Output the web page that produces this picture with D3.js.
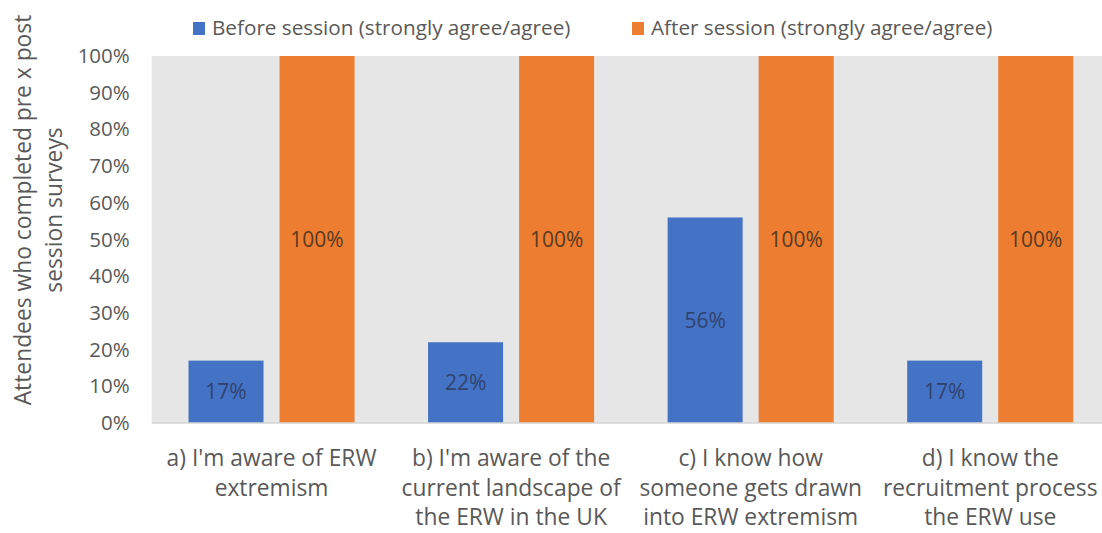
<!DOCTYPE html>
<html>
<head>
<meta charset="utf-8">
<script src="https://cdn.jsdelivr.net/npm/d3@7"></script>
<style>
  html, body { margin: 0; padding: 0; background: #ffffff; }
  svg { display: block; }
  text { font-family: "Open Sans", "Lato", sans-serif; }
</style>
</head>
<body>
<svg id="chart" width="1102" height="533"></svg>
<script>
// Survey statements (wrapped across lines as on the axis)
const categories = [
  ["a) I'm aware of ERW", "extremism"],
  ["b) I'm aware of the", "current landscape of", "the ERW in the UK"],
  ["c) I know how", "someone gets drawn", "into ERW extremism"],
  ["d) I know the", "recruitment process", "the ERW use"]
];
const categoryKeys = ["a", "b", "c", "d"];
const seriesNames = ["Before session (strongly agree/agree)", "After session (strongly agree/agree)"];
const beforeValues = [17, 22, 56, 17];
const afterValues = [100, 100, 100, 100];
const yTicks = [0, 10, 20, 30, 40, 50, 60, 70, 80, 90, 100];
const yTitle = ["Attendees who completed pre x post", "session surveys"];

const colors = ["#4472C4", "#ED7D31"];
const labelColors = ["#2f4470", "#5a3a20"];
const textGray = "#595959";

const svg = d3.select("#chart");
const plot = { left: 151.75, right: 1110, top: 56, bottom: 423 };

const x0 = d3.scaleBand()
  .domain(categoryKeys)
  .range([plot.left, plot.right])
  .paddingInner(0).paddingOuter(0);

const bw = x0.bandwidth();
const x1 = d3.scaleBand()
  .domain([0, 1])
  .range([36.75, bw - 36.75])
  .paddingInner(0.176).paddingOuter(0);

const y = d3.scaleLinear().domain([0, 100]).range([plot.bottom, plot.top]);

// plot area background
svg.append("rect")
  .attr("x", plot.left).attr("y", plot.top)
  .attr("width", plot.right - plot.left)
  .attr("height", plot.bottom - plot.top)
  .attr("fill", "#e7e6e6");

// bars
const rows = categoryKeys.map((k, i) => ({ key: k, values: [beforeValues[i], afterValues[i]] }));
const groups = svg.selectAll("g.cat").data(rows).join("g")
  .attr("class", "cat")
  .attr("transform", d => `translate(${x0(d.key)},0)`);

groups.selectAll("rect").data(d => d.values.map((v, s) => ({ v, s }))).join("rect")
  .attr("x", d => x1(d.s))
  .attr("width", x1.bandwidth())
  .attr("y", d => y(d.v))
  .attr("height", d => y(0) - y(d.v))
  .attr("fill", d => colors[d.s]);

groups.selectAll("text.val").data(d => d.values.map((v, s) => ({ v, s }))).join("text")
  .attr("class", "val")
  .attr("x", d => x1(d.s) + x1.bandwidth() / 2)
  .attr("y", d => y(d.v / 2))
  .attr("dy", "0.36em")
  .attr("text-anchor", "middle")
  .attr("font-size", 21)
  .attr("fill", d => labelColors[d.s])
  .text(d => d.v + "%");

// baseline
svg.append("line")
  .attr("x1", plot.left).attr("x2", plot.right)
  .attr("y1", y(0)).attr("y2", y(0))
  .attr("stroke", "#d4d4d4").attr("stroke-width", 1.5);

// y axis tick labels
const yAxis = d3.axisLeft(y)
  .tickValues(yTicks)
  .tickFormat(d => d + "%")
  .tickSize(0)
  .tickPadding(22);
const yg = svg.append("g").attr("transform", `translate(${plot.left},0)`).call(yAxis);
yg.select(".domain").remove();
yg.selectAll("text")
  .attr("font-family", "'Open Sans', sans-serif")
  .attr("font-size", 20.5)
  .attr("fill", textGray);

// x category labels
const xl = svg.selectAll("text.cat").data(categories).join("text")
  .attr("class", "cat")
  .attr("text-anchor", "middle")
  .attr("font-size", 22.8)
  .attr("fill", textGray)
  .attr("transform", (d, i) => `translate(${x0(categoryKeys[i]) + bw / 2},466)`);
xl.selectAll("tspan").data(d => d).join("tspan")
  .attr("x", 0)
  .attr("y", (d, i) => i * 29.5)
  .text(d => d);

// y axis title
const yt = svg.append("text")
  .attr("transform", "translate(0,210) rotate(-90)")
  .attr("text-anchor", "middle")
  .attr("font-size", 22.8)
  .attr("fill", textGray);
yt.selectAll("tspan").data(yTitle).join("tspan")
  .attr("x", 0)
  .attr("y", (d, i) => 31 + i * 31)
  .text(d => d);

// legend
const legendX = [193, 632];
const lg = svg.selectAll("g.leg").data(seriesNames).join("g")
  .attr("class", "leg")
  .attr("transform", (d, i) => `translate(${legendX[i]},0)`);
lg.append("rect")
  .attr("x", 0).attr("y", 22)
  .attr("width", 12).attr("height", 13)
  .attr("fill", (d, i) => colors[i]);
lg.append("text")
  .attr("x", 19).attr("y", 35)
  .attr("font-size", 20.7)
  .attr("fill", textGray)
  .text(d => d);
</script>
</body>
</html>
